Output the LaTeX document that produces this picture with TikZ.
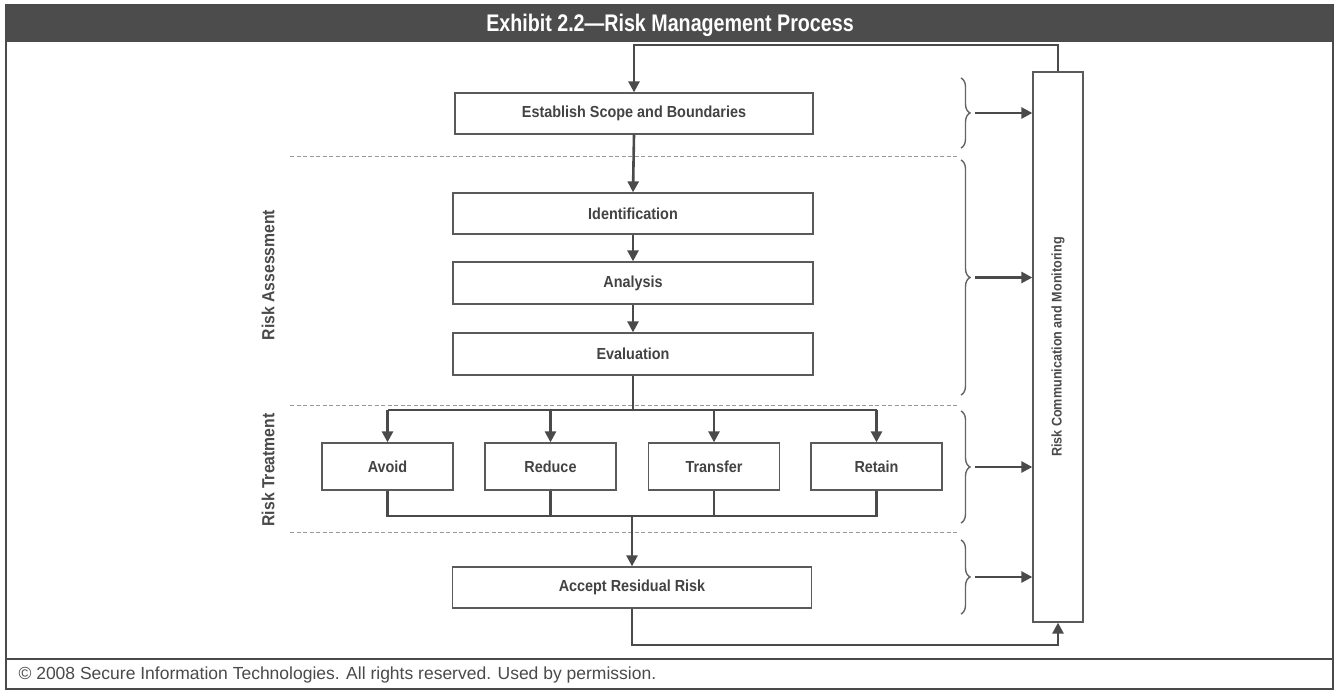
\documentclass[tikz,border=0pt]{standalone}
\usepackage{fontspec}
\setmainfont{Liberation Sans}
\newfontfamily\condfont[FakeStretch=0.9]{Liberation Sans}
\newfontfamily\titlefont[FakeStretch=0.82]{Liberation Sans}
\usetikzlibrary{arrows.meta,decorations.pathreplacing}
\definecolor{ink}{HTML}{4A4A4A}
\definecolor{boxline}{HTML}{5A5A5A}
\definecolor{barfill}{HTML}{4C4C4C}
\begin{document}
\begin{tikzpicture}[x=1pt,y={(0pt,-1pt)},
  stepbox/.style={draw=boxline,line width=1.3pt,fill=white,inner sep=0pt,
    font=\condfont\bfseries\fontsize{16}{18}\selectfont,text=ink!90!black},
  flow/.style={draw=ink,line width=2.6pt},
  flowarr/.style={flow,-{Triangle[length=11pt,width=11pt]}},
  sep/.style={draw=gray!80,line width=0.9pt,dash pattern=on 4pt off 2.5pt},
  bracemark/.style={draw=ink!85,line width=1.4pt,decorate,decoration={brace,amplitude=9pt}},
  sidelabel/.style={rotate=90,font=\condfont\bfseries\fontsize{17.5}{20}\selectfont,text=ink}]
\useasboundingbox (0,0) rectangle (1341,691);
\fill[white] (0,0) rectangle (1341,691);

% frame, title bar and footer
\fill[barfill] (6,5) rectangle (1333,42);
\node[font=\titlefont\bfseries\fontsize{24}{26}\selectfont,text=white] (title) at (670,25) {Exhibit 2.2—Risk Management Process};
\draw[ink,line width=2pt] (6,5) rectangle (1333,689);
\draw[ink,line width=2.2pt] (6,659) -- (1333,659);
\node[anchor=west,font=\fontsize{17.5}{20}\selectfont,text=ink] (credit) at (15,675)
  {\textcopyright{} 2008 Secure Information Technologies. All rights reserved. Used by permission.};

% phase separators
\draw[sep] (290,156) -- (958,156);
\draw[sep] (290,405) -- (958,405);
\draw[sep] (290,532) -- (958,532);

% side labels
\node[sidelabel] (assess) at (268,275) {Risk Assessment};
\node[sidelabel] (treat) at (268,470) {Risk Treatment};

% process steps
\node[stepbox,minimum width=358pt,minimum height=41pt] (scope) at (634,113.5) {Establish Scope and Boundaries};
\node[stepbox,minimum width=360pt,minimum height=41pt] (ident) at (633,213.5) {Identification};
\node[stepbox,minimum width=360pt,minimum height=42pt] (analysis) at (633,283) {Analysis};
\node[stepbox,minimum width=360pt,minimum height=42pt] (eval) at (633,354) {Evaluation};
\node[stepbox,minimum width=131pt,minimum height=47pt] (avoid) at (387.5,466.5) {Avoid};
\node[stepbox,minimum width=131pt,minimum height=47pt] (reduce) at (550.5,466.5) {Reduce};
\node[stepbox,minimum width=131pt,minimum height=47pt] (transfer) at (714,466.5) {Transfer};
\node[stepbox,minimum width=131pt,minimum height=47pt] (retain) at (876.5,466.5) {Retain};
\node[stepbox,minimum width=359pt,minimum height=41pt] (accept) at (632,587.5) {Accept Residual Risk};
\node[stepbox,minimum width=50pt,minimum height=550pt] (rcm) at (1058,347) {};
\node[rotate=90,font=\condfont\bfseries\fontsize{14}{16}\selectfont,text=ink] (rcmtext) at (rcm.center) {Risk Communication and Monitoring};

% helper levels
\coordinate (toplevel) at (0,45);
\coordinate (tbus) at (0,410);
\coordinate (bbus) at (0,516);
\coordinate (botlevel) at (0,645);

% main flow
\draw[flowarr] (rcm.north) -- (rcm.north |- toplevel) -| (scope.north);
\draw[flowarr] (scope.south) -- (ident.north);
\draw[flowarr] (ident.south) -- (analysis.north);
\draw[flowarr] (analysis.south) -- (eval.north);
\draw[flow] (eval.south) -- (eval.south |- tbus);
\draw[flow] (avoid.north |- tbus) -- (retain.north |- tbus);
\draw[flowarr] (avoid.north |- tbus) -- (avoid.north);
\draw[flowarr] (reduce.north |- tbus) -- (reduce.north);
\draw[flowarr] (transfer.north |- tbus) -- (transfer.north);
\draw[flowarr] (retain.north |- tbus) -- (retain.north);
\draw[flow] (avoid.south) -- (avoid.south |- bbus) -- (retain.south |- bbus) -- (retain.south);
\draw[flow] (reduce.south) -- (reduce.south |- bbus);
\draw[flow] (transfer.south) -- (transfer.south |- bbus);
\draw[flowarr] (accept.north |- bbus) -- (accept.north);
\draw[flowarr] (accept.south) -- (accept.south |- botlevel) -| (rcm.south);

% braces feeding communication and monitoring
\draw[bracemark] (961,78) -- (961,148);
\draw[bracemark] (961,160) -- (961,395);
\draw[bracemark] (961,411) -- (961,523);
\draw[bracemark] (961,540) -- (961,614);
\coordinate (tip1) at (975,113);
\coordinate (tip2) at (975,277.5);
\coordinate (tip3) at (975,467);
\coordinate (tip4) at (975,577);
\draw[flowarr] (tip1) -- (rcm.west |- tip1);
\draw[flowarr] (tip2) -- (rcm.west |- tip2);
\draw[flowarr] (tip3) -- (rcm.west |- tip3);
\draw[flowarr] (tip4) -- (rcm.west |- tip4);
\end{tikzpicture}
\end{document}
